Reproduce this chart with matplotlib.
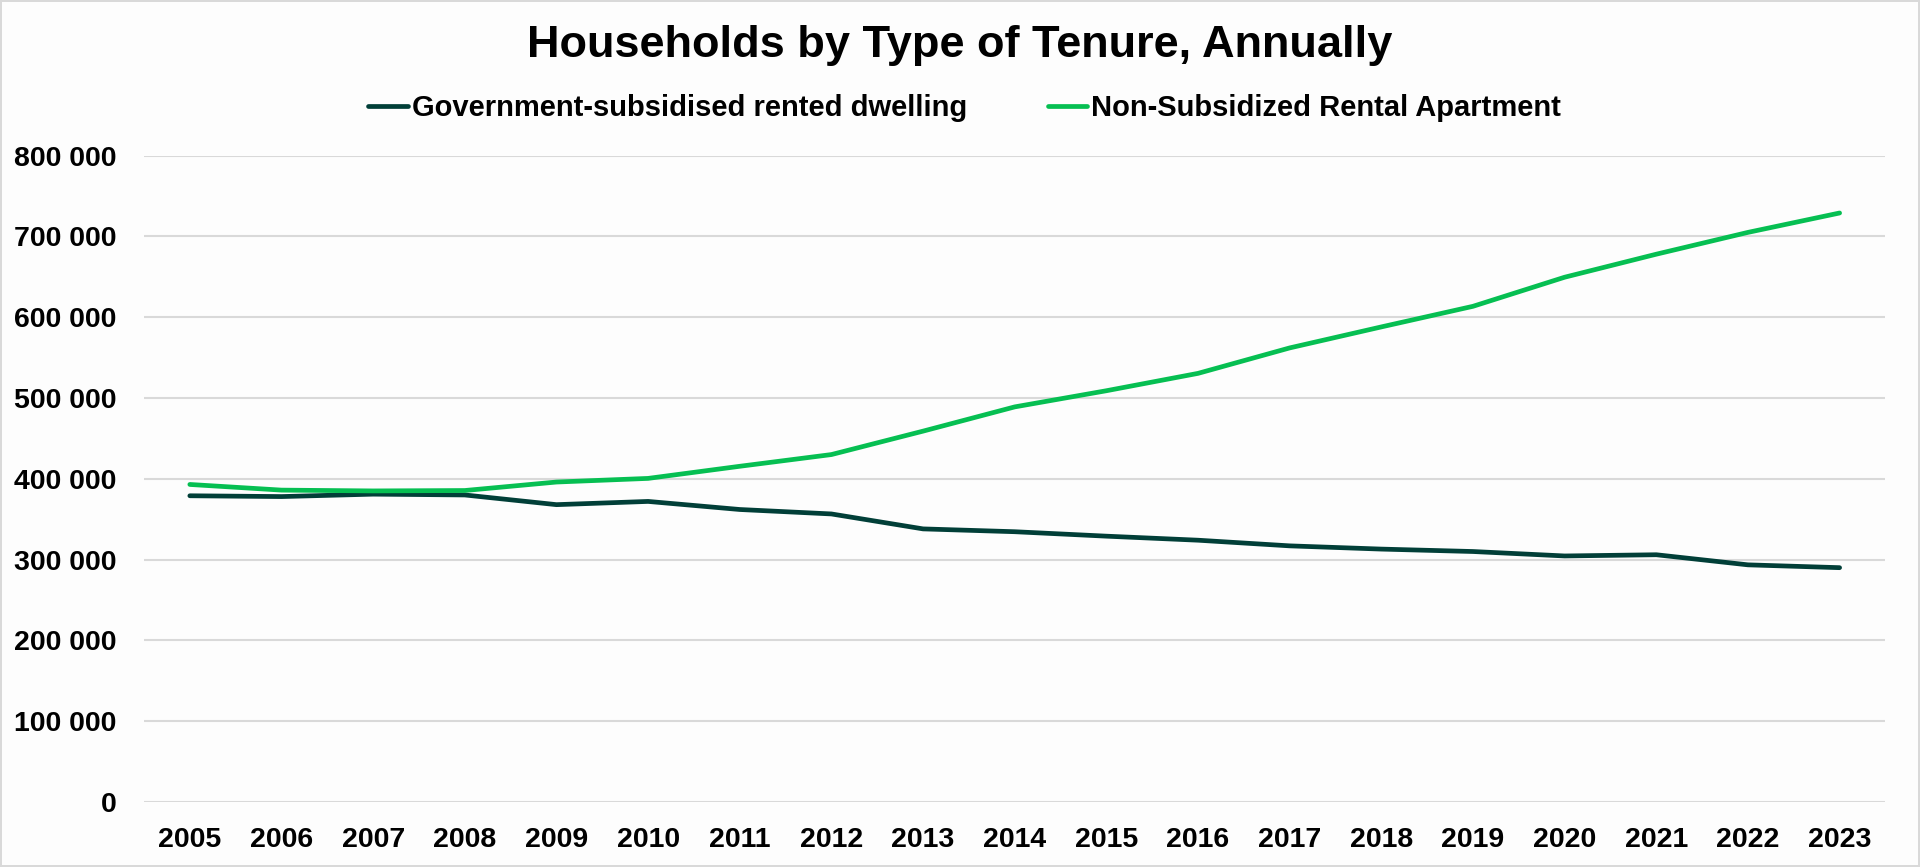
import matplotlib
matplotlib.use("Agg")
import matplotlib.pyplot as plt
from matplotlib.ticker import FuncFormatter, MultipleLocator

years = list(range(2005, 2024))
subsidised = [379000, 378000, 381000, 380000, 368000, 372000, 362000, 356500, 338000, 334500,
              329000, 324000, 317000, 313000, 310000, 304500, 306000, 293500, 290000]
non_subsidised = [393000, 386000, 385000, 385500, 396000, 400500, 415500, 430000, 459000, 489000,
                  509000, 530500, 562000, 588000, 613500, 649500, 678000, 705000, 729000]

series_names = ["Government-subsidised rented dwelling", "Non-Subsidized Rental Apartment"]
colors = ["#013f38", "#06bf52"]
title = "Households by Type of Tenure, Annually"

plt.rcParams['font.family'] = ['Liberation Sans', 'DejaVu Sans']
plt.rcParams['font.weight'] = 'bold'

fig = plt.figure(figsize=(19.2, 8.67), dpi=100, facecolor="#fdfdfd")
fig.patch.set_edgecolor("#d9d9d9")
fig.patch.set_linewidth(1.5)
ax = fig.add_axes([0.075, 0.075, 0.907, 0.7455])
ax.set_facecolor("#fdfdfd")

ax.plot(years, subsidised, color=colors[0], lw=3.4, label=series_names[0], solid_capstyle='round')
ax.plot(years, non_subsidised, color=colors[1], lw=3.4, label=series_names[1], solid_capstyle='round')

ax.set_xlim(2004.5, 2023.5)
ax.set_ylim(0, 800000)
ax.set_xticks(years)
ax.set_xticklabels([str(y) for y in years])
ax.yaxis.set_major_locator(MultipleLocator(100000))
ax.yaxis.set_major_formatter(FuncFormatter(lambda v, p: f"{int(v):,}".replace(",", " ")))

ax.grid(axis='y', color="#d9d9d9", lw=1.5)
ax.set_axisbelow(True)
for s in ax.spines.values():
    s.set_visible(False)
ax.tick_params(axis='both', length=0, labelsize=20.5, colors='black')
ax.tick_params(axis='y', pad=20)
ax.tick_params(axis='x', pad=18)
for lbl in ax.get_xticklabels() + ax.get_yticklabels():
    lbl.set_fontweight('bold')

fig.text(0.5, 0.947, title, ha='center', va='center', fontsize=32.5, fontweight='bold')
fig.legend(loc='center', bbox_to_anchor=(0.5025, 0.875), ncol=2, frameon=False,
           prop={'size': 21, 'weight': 'bold'}, handlelength=1.35, handletextpad=0.15,
           columnspacing=2.75)

fig.savefig("out.png", dpi=100, facecolor=fig.get_facecolor(), edgecolor=fig.patch.get_edgecolor())
